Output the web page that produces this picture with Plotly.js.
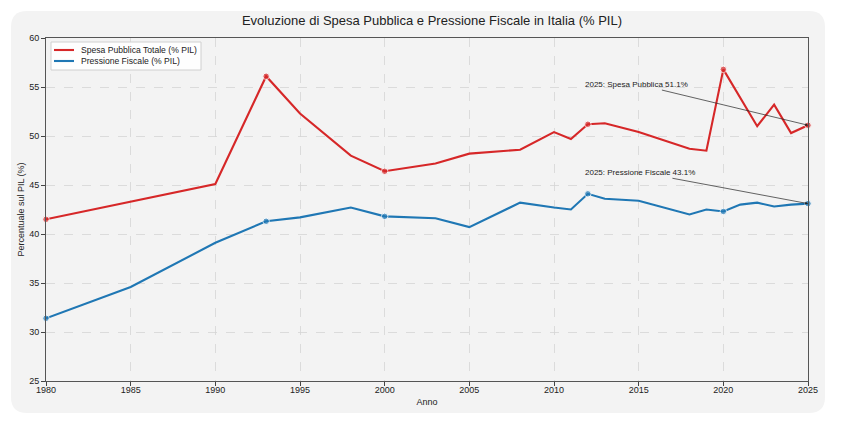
<!DOCTYPE html>
<html>
<head>
<meta charset="utf-8">
<script src="https://cdn.plot.ly/plotly-3.0.1.min.js"></script>
<style>
  html, body { margin: 0; padding: 0; background: #ffffff; }
  #chart { width: 864px; height: 429px; }
</style>
</head>
<body>
<div id="chart"></div>
<script>
// Anni e serie (% del PIL)
const anni = [1980, 1985, 1990, 1993, 1995, 1998, 2000, 2003, 2005, 2008, 2010, 2011, 2012, 2013, 2015, 2018, 2019, 2020, 2021, 2022, 2023, 2024, 2025];
const spesaPubblica = [41.5, 43.3, 45.1, 56.1, 52.3, 48.0, 46.4, 47.2, 48.2, 48.6, 50.4, 49.7, 51.2, 51.3, 50.4, 48.7, 48.5, 56.8, 53.9, 51.0, 53.2, 50.3, 51.1];
const pressioneFiscale = [31.4, 34.6, 39.1, 41.3, 41.7, 42.7, 41.8, 41.6, 40.7, 43.2, 42.7, 42.5, 44.1, 43.6, 43.4, 42.0, 42.5, 42.3, 43.0, 43.2, 42.8, 43.0, 43.1];
// Anni evidenziati con un marcatore
const anniChiave = [1980, 1993, 2000, 2012, 2020, 2025];

const yTicks = [25, 30, 35, 40, 45, 50, 55, 60];
const xTicks = [1980, 1985, 1990, 1995, 2000, 2005, 2010, 2015, 2020, 2025];

const nomeSpesa = 'Spesa Pubblica Totale (% PIL)';
const nomePressione = 'Pressione Fiscale (% PIL)';

const ROSSO = '#d62728';
const BLU = '#1f77b4';
const FONT = '"Liberation Sans", Arial, sans-serif';

const W = 864, H = 429;
const M = { l: 46, r: 56, t: 38, b: 48 };
const PW = W - M.l - M.r, PH = H - M.t - M.b;
// conversione da pixel della pagina a coordinate "paper"
const px = v => (v - M.l) / PW;
const py = v => (H - M.b - v) / PH;

const markerSizes = anni.map(a => anniChiave.includes(a) ? 6.5 : 0);

const traces = [
  {
    x: anni, y: spesaPubblica, type: 'scatter', mode: 'lines+markers',
    name: nomeSpesa, showlegend: false,
    line: { color: ROSSO, width: 2.1 },
    marker: { color: ROSSO, size: markerSizes },
    cliponaxis: false
  },
  {
    x: anni, y: pressioneFiscale, type: 'scatter', mode: 'lines+markers',
    name: nomePressione, showlegend: false,
    line: { color: BLU, width: 2.1 },
    marker: { color: BLU, size: markerSizes },
    cliponaxis: false
  }
];

const ultimo = anni.length - 1;

// cornice arrotondata dietro il grafico
function cornice(L, T, R, B, r) {
  const X = v => px(v).toFixed(5), Y = v => py(v).toFixed(5);
  return 'M' + X(L + r) + ',' + Y(T) +
    ' L' + X(R - r) + ',' + Y(T) +
    ' Q' + X(R) + ',' + Y(T) + ' ' + X(R) + ',' + Y(T + r) +
    ' L' + X(R) + ',' + Y(B - r) +
    ' Q' + X(R) + ',' + Y(B) + ' ' + X(R - r) + ',' + Y(B) +
    ' L' + X(L + r) + ',' + Y(B) +
    ' Q' + X(L) + ',' + Y(B) + ' ' + X(L) + ',' + Y(B - r) +
    ' L' + X(L) + ',' + Y(T + r) +
    ' Q' + X(L) + ',' + Y(T) + ' ' + X(L + r) + ',' + Y(T) + ' Z';
}

// legenda: riquadro, campioni di linea ed etichette
const legenda = [
  { nome: nomeSpesa, colore: ROSSO, y: 50 },
  { nome: nomePressione, colore: BLU, y: 61 }
];

const shapes = [
  {
    type: 'path', xref: 'paper', yref: 'paper', layer: 'below',
    path: cornice(11, 11, 825, 413, 16),
    fillcolor: '#f3f3f3', line: { width: 0 }
  },
  {
    type: 'rect', xref: 'paper', yref: 'paper',
    x0: px(51), x1: px(201), y0: py(42), y1: py(70),
    fillcolor: 'rgba(255,255,255,0.9)', line: { color: '#d0d0d0', width: 1 }
  }
].concat(legenda.map(v => ({
  type: 'line', xref: 'paper', yref: 'paper',
  x0: px(54), x1: px(74), y0: py(v.y), y1: py(v.y),
  line: { color: v.colore, width: 2.1 }
})));

const annotations = [
  {
    x: anni[ultimo], y: spesaPubblica[ultimo], xref: 'x', yref: 'y',
    ax: 2014.9, ay: 55.3, axref: 'x', ayref: 'y',
    text: anni[ultimo] + ': Spesa Pubblica ' + spesaPubblica[ultimo].toFixed(1) + '%',
    font: { family: FONT, size: 8, color: '#222' },
    showarrow: true, arrowhead: 2, arrowsize: 0.8, arrowwidth: 0.7, arrowcolor: '#222',
    standoff: 0
  },
  {
    x: anni[ultimo], y: pressioneFiscale[ultimo], xref: 'x', yref: 'y',
    ax: 2015.1, ay: 46.3, axref: 'x', ayref: 'y',
    text: anni[ultimo] + ': Pressione Fiscale ' + pressioneFiscale[ultimo].toFixed(1) + '%',
    font: { family: FONT, size: 8, color: '#222' },
    showarrow: true, arrowhead: 2, arrowsize: 0.8, arrowwidth: 0.7, arrowcolor: '#222',
    standoff: 0
  }
].concat(legenda.map(v => ({
  xref: 'paper', yref: 'paper', x: px(79), y: py(v.y),
  xanchor: 'left', yanchor: 'middle', showarrow: false,
  text: v.nome, font: { family: FONT, size: 8.6, color: '#222' }
})));

const layout = {
  width: W, height: H,
  paper_bgcolor: '#ffffff',
  plot_bgcolor: '#f7f7f7',
  margin: M,
  title: {
    text: 'Evoluzione di Spesa Pubblica e Pressione Fiscale in Italia (% PIL)',
    font: { family: FONT, size: 13, color: '#222' },
    x: 0.5, xanchor: 'center', y: 0.953, yanchor: 'middle'
  },
  xaxis: {
    range: [1980, 2025],
    tickvals: xTicks,
    ticks: 'outside', ticklen: 4, tickcolor: '#444',
    ticklabelstandoff: -4,
    tickfont: { family: FONT, size: 9, color: '#222' },
    showline: true, mirror: true, linecolor: '#555', linewidth: 1,
    showgrid: true, gridcolor: '#d4d4d4', griddash: 'dash', gridwidth: 0.8,
    zeroline: false,
    title: { text: 'Anno', font: { family: FONT, size: 9, color: '#222' }, standoff: 4 }
  },
  yaxis: {
    range: [25, 60],
    tickvals: yTicks,
    ticks: 'outside', ticklen: 4, tickcolor: '#444',
    tickfont: { family: FONT, size: 9, color: '#222' },
    showline: true, mirror: true, linecolor: '#555', linewidth: 1,
    showgrid: true, gridcolor: '#d4d4d4', griddash: 'dash', gridwidth: 0.8,
    zeroline: false,
    title: { text: 'Percentuale sul PIL (%)', font: { family: FONT, size: 9, color: '#222' }, standoff: 3 }
  },
  annotations: annotations,
  shapes: shapes,
  showlegend: false
};

Plotly.newPlot('chart', traces, layout, { displayModeBar: false, staticPlot: true });
</script>
</body>
</html>
